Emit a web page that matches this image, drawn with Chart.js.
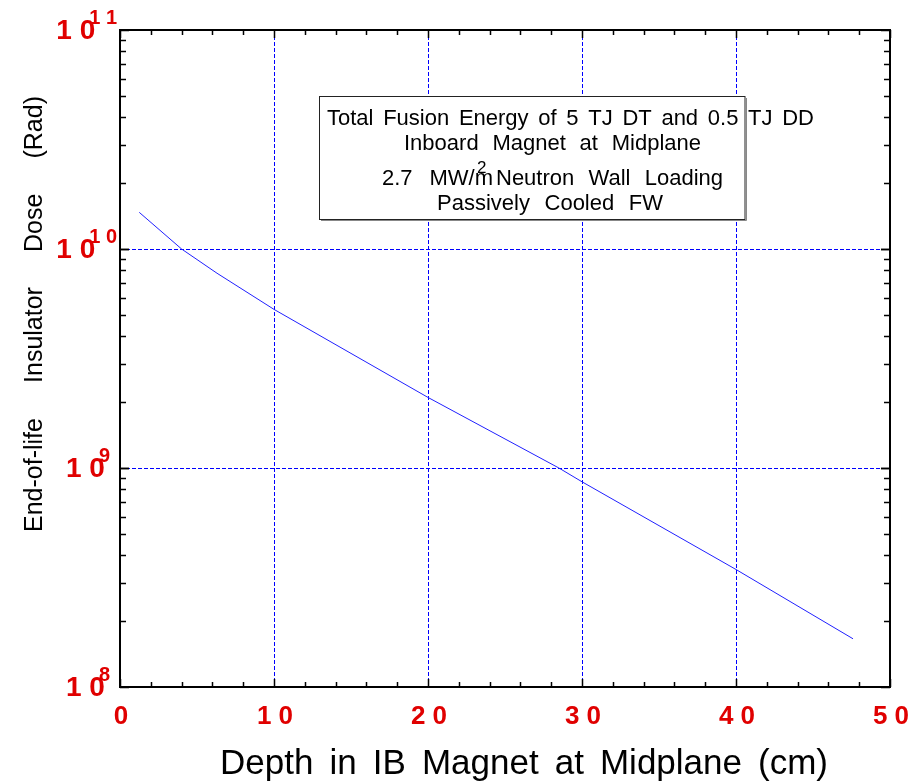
<!DOCTYPE html>
<html><head><meta charset="utf-8">
<script src="https://cdn.jsdelivr.net/npm/chart.js@4"></script>
<style>html,body{margin:0;padding:0;background:#fff}#wrap{width:915px;height:781px;position:relative}</style>
</head><body><div id="wrap"><canvas id="c" width="915" height="781"></canvas></div>
<script>
// ---- data ----
const depthCm = [1.25, 4.0, 6.3, 10, 20, 28.5, 30, 40, 47.6];
const doseRad = [1.47e10, 1.0e10, 7.75e9, 5.3e9, 2.1e9, 1.0e9, 8.65e8, 3.44e8, 1.66e8];
const xTickValues = [0, 10, 20, 30, 40, 50];
const xTickLabels = ['0', '1 0', '2 0', '3 0', '4 0', '5 0'];
const yTickValues = [1e8, 1e9, 1e10, 1e11];
const yTickExponents = ['8', '9', '1 0', '1 1'];
const yTickBase = '1 0';
const xTitle = 'Depth in IB Magnet at Midplane (cm)';
const yTitle = 'End-of-life Insulator Dose (Rad)';
const noteLine1 = 'Total Fusion Energy of 5 TJ DT and 0.5 TJ DD';
const noteLine2 = 'Inboard Magnet at Midplane';
const noteLine3a = '2.7 MW/m';
const noteLine3sup = '2';
const noteLine3b = 'Neutron Wall Loading';
const noteLine4 = 'Passively Cooled FW';

const FONT = '"Liberation Sans", Arial, Helvetica, sans-serif';
const RED = '#e00000';

function fitText(ctx, text, x, y, target) {
  const hasWS = ('wordSpacing' in ctx);
  if (hasWS) ctx.wordSpacing = '0px';
  const nat = ctx.measureText(text).width;
  const spaces = (text.match(/ /g) || []).length;
  if (hasWS && spaces > 0) ctx.wordSpacing = Math.max(0, (target - nat) / spaces).toFixed(2) + 'px';
  ctx.fillText(text, x, y);
  if (hasWS) ctx.wordSpacing = '0px';
}

const decor = {
  id: 'decor',
  beforeDatasetsDraw(chart) {
    const {ctx, chartArea: a, scales: {x, y}} = chart;
    ctx.save();
    ctx.strokeStyle = '#0000ff';
    ctx.lineWidth = 1;
    ctx.setLineDash([4, 2]);
    xTickValues.slice(1, -1).forEach(v => {
      const px = Math.round(x.getPixelForValue(v)) + 0.5;
      ctx.beginPath(); ctx.moveTo(px, a.top); ctx.lineTo(px, a.bottom); ctx.stroke();
    });
    yTickValues.slice(1, -1).forEach(v => {
      const py = Math.round(y.getPixelForValue(v)) + 0.5;
      ctx.beginPath(); ctx.moveTo(a.left, py); ctx.lineTo(a.right, py); ctx.stroke();
    });
    ctx.restore();
  },
  afterDatasetsDraw(chart) {
    const {ctx, chartArea: a, scales: {x, y}} = chart;
    ctx.save();
    // frame
    ctx.strokeStyle = '#000';
    ctx.lineWidth = 2;
    ctx.strokeRect(a.left, a.top, a.right - a.left, a.bottom - a.top);
    // x ticks (bottom & top, inward)
    ctx.lineWidth = 1.5;
    for (let v = 0; v <= 50; v += 2) {
      const px = Math.round(x.getPixelForValue(v)) + 0.5;
      const len = (v % 10 === 0) ? 8 : 5;
      ctx.beginPath();
      ctx.moveTo(px, a.bottom); ctx.lineTo(px, a.bottom - len);
      ctx.moveTo(px, a.top); ctx.lineTo(px, a.top + len);
      ctx.stroke();
    }
    // y ticks (left & right, inward)
    for (let d = 8; d <= 10; d++) {
      for (let k = 1; k <= 10; k++) {
        const v = k * Math.pow(10, d);
        const py = Math.round(y.getPixelForValue(v)) + 0.5;
        const len = (k === 1 || k === 10) ? 9 : 6;
        ctx.beginPath();
        ctx.moveTo(a.left, py); ctx.lineTo(a.left + len, py);
        ctx.moveTo(a.right, py); ctx.lineTo(a.right - len, py);
        ctx.stroke();
      }
    }
    // x tick labels
    ctx.fillStyle = RED;
    ctx.font = 'bold 26px ' + FONT;
    ctx.textAlign = 'center';
    ctx.textBaseline = 'alphabetic';
    xTickValues.forEach((v, i) => {
      ctx.fillText(xTickLabels[i], x.getPixelForValue(v) + 1, 724);
    });
    // y tick labels (10 with superscript exponent)
    yTickValues.forEach((v, i) => {
      const py = y.getPixelForValue(v);
      const e = yTickExponents[i];
      ctx.font = 'bold 20px ' + FONT;
      const ew = ctx.measureText(e).width;
      const expRight = e.length > 1 ? 117 : 110;
      const expLeft = expRight - ew;
      ctx.font = 'bold 28px ' + FONT;
      ctx.textAlign = 'right';
      ctx.fillText(yTickBase, expLeft + 6, py + 9);
      ctx.font = 'bold 20px ' + FONT;
      ctx.textAlign = 'left';
      ctx.fillText(e, expLeft, py - 6);
    });
    // axis titles
    ctx.fillStyle = '#000';
    ctx.font = '35px ' + FONT;
    ctx.textAlign = 'left';
    fitText(ctx, xTitle, 220, 774, 608);
    ctx.save();
    ctx.translate(42, 532);
    ctx.rotate(-Math.PI / 2);
    ctx.font = '25px ' + FONT;
    fitText(ctx, yTitle, 0, 0, 436);
    ctx.restore();
    // annotation box
    ctx.fillStyle = '#fff';
    ctx.fillRect(320, 97, 425, 122);
    ctx.strokeStyle = '#888';
    ctx.lineWidth = 1;
    ctx.beginPath(); ctx.moveTo(321, 220.5); ctx.lineTo(746.5, 220.5); ctx.lineTo(746.5, 98); ctx.stroke();
    ctx.strokeStyle = '#222';
    ctx.strokeRect(319.5, 96.5, 425.5, 123);
    ctx.fillStyle = '#000';
    ctx.font = '22px ' + FONT;
    ctx.textAlign = 'left';
    fitText(ctx, noteLine1, 327, 125, 487);
    fitText(ctx, noteLine2, 404, 150, 297);
    fitText(ctx, noteLine3a, 382, 185, 111);
    fitText(ctx, noteLine3b, 496, 185, 227);
    fitText(ctx, noteLine4, 437, 210, 226);
    ctx.font = '17px ' + FONT;
    ctx.fillText(noteLine3sup, 477, 173);
    ctx.restore();
  }
};

new Chart(document.getElementById('c'), {
  type: 'scatter',
  data: {
    datasets: [{
      data: depthCm.map((d, i) => ({x: d, y: doseRad[i]})),
      showLine: true,
      borderColor: '#2020ff',
      borderWidth: 1,
      pointRadius: 0,
      tension: 0,
      fill: false
    }]
  },
  options: {
    responsive: false,
    animation: false,
    devicePixelRatio: 1,
    layout: {padding: {left: 0, right: 25, top: 30, bottom: 0}},
    plugins: {legend: {display: false}, tooltip: {enabled: false}, title: {display: false}},
    scales: {
      x: {
        type: 'linear', min: 0, max: 50,
        ticks: {display: false}, grid: {display: false}, border: {display: false},
        afterFit: s => { s.height = 94; }
      },
      y: {
        type: 'logarithmic', min: 1e8, max: 1e11,
        ticks: {display: false}, grid: {display: false}, border: {display: false},
        afterFit: s => { s.width = 120; }
      }
    }
  },
  plugins: [decor]
});
</script>
</body></html>
